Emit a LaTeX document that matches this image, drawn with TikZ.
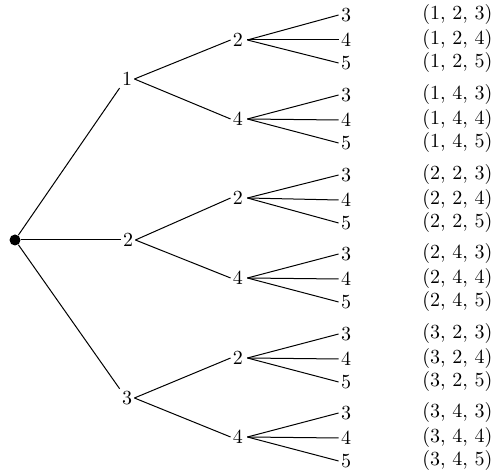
\documentclass[tikz,border=0pt]{standalone}
\begin{document}
\begin{tikzpicture}[x=0.5pt,y=-0.5pt,
  num/.style={inner sep=1pt, font=\normalsize},
  tup/.style={anchor=west, inner sep=0pt, font=\normalsize},
  edge/.style={line width=0.5pt}]
\useasboundingbox (0,0) rectangle (494,475);
\node[circle, fill, inner sep=0pt, minimum size=5.5pt] (r) at (15,240) {};
\node[num] (a1) at (127,79) {1};
\node[num] (a2) at (128,240) {2};
\node[num] (a3) at (127,398) {3};
\draw[edge] (r) -- (a1.south west);
\draw[edge] (r) -- (a2.west);
\draw[edge] (r) -- (a3.north west);
% level 2
\node[num] (b1) at (238,40) {2};
\node[num] (b2) at (238,119) {4};
\node[num] (b3) at (238,198) {2};
\node[num] (b4) at (238,278) {4};
\node[num] (b5) at (238,358) {2};
\node[num] (b6) at (238,437) {4};
\draw[edge] (a1.east) -- (b1.west);
\draw[edge] (a1.east) -- (b2.west);
\draw[edge] (a2.east) -- (b3.west);
\draw[edge] (a2.east) -- (b4.west);
\draw[edge] (a3.east) -- (b5.west);
\draw[edge] (a3.east) -- (b6.west);
% leaves
\foreach \g/\y/\p/\q in {1/15/1/2, 2/95/1/4, 3/175/2/2, 4/254/2/4, 5/334/3/2, 6/413/3/4}{
  \node[num] (c\g a) at (346,\y) {3};
  \node[num] (c\g b) at (346,\y+25) {4};
  \node[num] (c\g c) at (346,\y+48) {5};
  \node[tup] (t\g a) at (422,\y) {(\p, \q, 3)};
  \node[tup] (t\g b) at (422,\y+25) {(\p, \q, 4)};
  \node[tup] (t\g c) at (422,\y+48) {(\p, \q, 5)};
  \draw[edge] ([xshift=1pt]b\g.east) -- (c\g a.west);
  \draw[edge] ([xshift=1pt]b\g.east) -- (c\g b.west);
  \draw[edge] ([xshift=1pt]b\g.east) -- (c\g c.west);
}
\end{tikzpicture}
\end{document}
